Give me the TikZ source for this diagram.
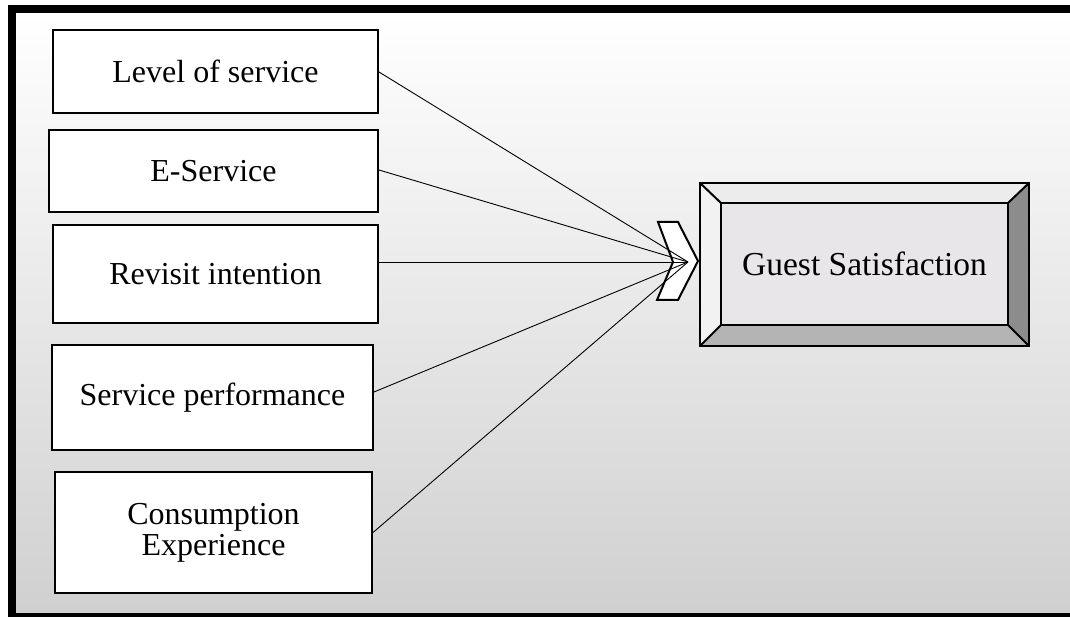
\documentclass[tikz,border=0pt]{standalone}
\usepackage{fontspec}
\setmainfont{Liberation Serif}
\usetikzlibrary{calc}
\definecolor{bgbot}{HTML}{D0D0D0}
\definecolor{bgmid}{HTML}{F9F9F9}
\definecolor{bevtop}{HTML}{ECECEC}
\definecolor{bevleft}{HTML}{F2F2F2}
\definecolor{bevright}{HTML}{8C8C8C}
\definecolor{bevbot}{HTML}{B4B4B4}
\definecolor{face}{HTML}{E8E6E8}
\tikzset{
  varbox/.style={draw=black, line width=2pt, fill=white, inner sep=0pt,
    align=center, font=\fontsize{32}{32}\selectfont},
  link/.style={draw=black, line width=0.9pt},
  bevel/.style={draw=black, line width=2pt, line join=miter}
}
\begin{document}
\begin{tikzpicture}[x=1pt,y=-1pt]
\useasboundingbox (0,0) rectangle (1070,617);
% frame and background
\fill[black] (8,5) rectangle (1070,617);
\shade[top color=white, middle color=bgmid, bottom color=bgbot, shading angle=0]
  (16,14) rectangle (1070,612);
% left boxes
\node[varbox, minimum width=325pt, minimum height=83pt] (b1) at (215.5,71.5) {Level of service};
\node[varbox, minimum width=329pt, minimum height=82pt] (b2) at (213.5,171) {E-Service};
\node[varbox, minimum width=325pt, minimum height=98pt] (b3) at (215.5,274) {Revisit intention};
\node[varbox, minimum width=321pt, minimum height=105pt] (b4) at (212.5,397.5) {Service performance};
\node[varbox, minimum width=317pt, minimum height=121pt] (b5) at (213.5,532.5) {Consumption\\[-1pt]Experience};
% chevron
\draw[bevel, fill=white] (658,222) -- (678,222) -- (698,261) -- (678,300) -- (657,300) -- (673,262) -- cycle;
\coordinate (c) at (688,262);
% bevel box
\coordinate (o1) at (700,183);
\coordinate (o2) at (1029,183);
\coordinate (o3) at (1029,346);
\coordinate (o4) at (700,346);
\coordinate (i1) at (721,203);
\coordinate (i2) at (1008,203);
\coordinate (i3) at (1008,325);
\coordinate (i4) at (721,325);
\fill[bevtop] (o1) -- (o2) -- (i2) -- (i1) -- cycle;
\fill[bevright] (o2) -- (o3) -- (i3) -- (i2) -- cycle;
\fill[bevbot] (o3) -- (o4) -- (i4) -- (i3) -- cycle;
\fill[bevleft] (o4) -- (o1) -- (i1) -- (i4) -- cycle;
\draw[bevel] (o1) -- (i1) (o2) -- (i2) (o3) -- (i3) (o4) -- (i4);
\draw[bevel] (o1) rectangle (o3);
\node[draw=black, line width=2pt, fill=face, minimum width=287pt, minimum height=122pt,
  inner sep=0pt, font=\fontsize{33.5}{33.5}\selectfont] (gs) at (864.5,264) {Guest Satisfaction};
% connectors
\draw[link] ([yshift=-0.5pt]b1.east) -- (c);
\draw[link] ([yshift=1pt]b2.east) -- (c);
\draw[link] (b3.east |- c) -- (c);
\draw[link] ([yshift=5.5pt]b4.east) -- (c);
\draw[link] (b5.east) -- (c);
\end{tikzpicture}
\end{document}
